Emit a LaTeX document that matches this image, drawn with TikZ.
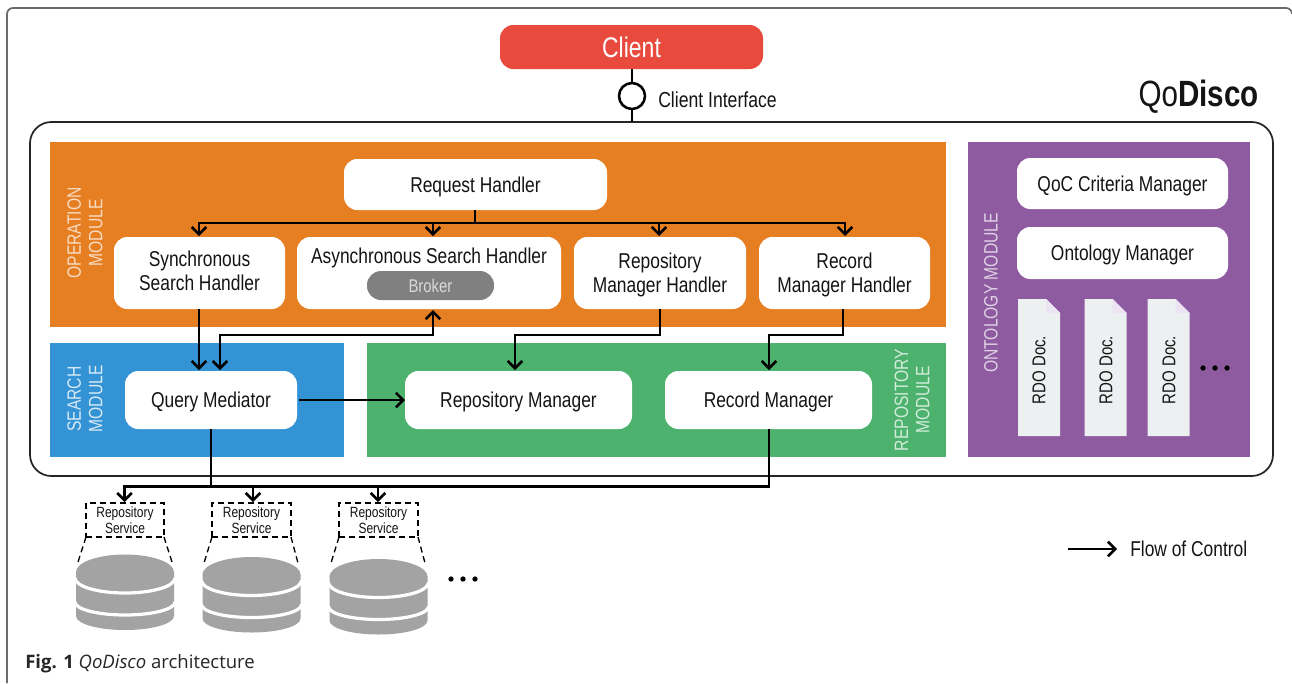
\documentclass[tikz,border=0pt]{standalone}
\usepackage{fontspec}
\setmainfont[FakeStretch=0.81]{Liberation Sans}
\newfontfamily\capfont{Open Sans}
\usetikzlibrary{arrows.meta,calc}
\definecolor{cclient}{HTML}{E84B3D}
\definecolor{corange}{HTML}{E67E22}
\definecolor{cblue}{HTML}{3393D4}
\definecolor{cgreen}{HTML}{4DB26E}
\definecolor{cpurple}{HTML}{8E5BA0}
\definecolor{cdoc}{HTML}{ECF0F1}
\definecolor{cfold}{HTML}{EDE4F3}
\definecolor{cdb}{HTML}{A3A3A3}
\definecolor{cbroker}{HTML}{808080}
\definecolor{ctext}{HTML}{141414}
\tikzset{
  x=0.75pt,y=-0.75pt,
  module/.style={inner sep=0pt,outer sep=0pt},
  whitebox/.style={fill=white,rounded corners=10pt,inner sep=0pt,outer sep=0pt,align=center,text depth=0pt,font=\fontsize{16.1pt}{18pt}\selectfont,text=ctext},
  modlabel/.style={rotate=90,align=center,inner sep=0pt,font=\fontsize{14.5pt}{16pt}\selectfont},
  flow/.style={line width=2.1pt,-{Straight Barb[length=5.5pt,width=11pt,line width=1.9pt]}},
  flowboth/.style={line width=2.1pt,{Straight Barb[length=5.5pt,width=11pt,line width=1.9pt]}-{Straight Barb[length=5.5pt,width=11pt,line width=1.9pt]}},
  plain/.style={line width=2.1pt},
  svcbox/.style={draw=black,line width=1.1pt,dash pattern=on 4.5pt off 3pt,align=center,inner sep=0pt,outer sep=0pt,font=\fontsize{11.1pt}{11.6pt}\selectfont,text=ctext},
  zoomline/.style={line width=1pt,dash pattern=on 4.5pt off 3pt},
  dot/.style={circle,fill=black,inner sep=0pt,minimum size=4pt},
  doclabel/.style={rotate=90,inner sep=0pt,font=\fontsize{13.9pt}{15pt}\selectfont,text=ctext},
}
% name x1 y1 x2 y2 style text
\newcommand{\bx}[7]{\node[#6,minimum width={(#4-#2)*0.75pt},minimum height={(#5-#3)*0.75pt}] (#1) at ({(#2+#4)/2},{(#3+#5)/2}) {#7};}
\newcommand{\rdodoc}[3]{%
  \fill[cdoc] (#2,299)--(#2+28,299)--(#2+42,313)--(#2+42,436)--(#2,436)--cycle;
  \fill[cfold] (#2+28,299)--(#2+42,313)--(#2+28,313)--cycle;
  \node[doclabel] (#1) at (#3,370) {RDO Doc.};}
\newcommand{\dbstack}[2]{%
  \begin{scope}[shift={(#1,#2)}]
  \fill[cdb] (-49,0)--(-49,44) arc[start angle=180,end angle=0,x radius=49,y radius=14] --(49,0)--cycle;
  \draw[white,line width=2.4pt] (-50,30) arc[start angle=180,end angle=0,x radius=50,y radius=13];
  \draw[white,line width=2.4pt] (-50,6) arc[start angle=180,end angle=0,x radius=50,y radius=15];
  \fill[cdb] (0,0) ellipse[x radius=49,y radius=17.5];
  \end{scope}}
\begin{document}
\begin{tikzpicture}
\useasboundingbox (0,0) rectangle (1292,683);
\fill[white] (0,0) rectangle (1292,683);
% page frame
\draw[black!58,line width=1.3pt] (7,683)--(7,14) arc[start angle=180,end angle=270,radius=6]--(1286,8) arc[start angle=270,end angle=360,radius=6];
% outer
\node[draw=black!85,line width=1.3pt,rounded corners=16pt,minimum width={1243*0.75pt},minimum height={354*0.75pt},inner sep=0pt,outer sep=0pt] (outer) at (651.5,299) {};
% modules
\bx{opm}{50}{142}{946}{327}{module,fill=corange}{}
\bx{sem}{50}{343}{344}{457}{module,fill=cblue}{}
\bx{rem}{367}{343}{946}{457}{module,fill=cgreen}{}
\bx{onm}{968}{142}{1250}{457}{module,fill=cpurple}{}
\node[modlabel,text=white!72!corange] (oplabel) at (85,233) {OPERATION\\MODULE};
\node[modlabel,text=white!80!cblue] (selabel) at (85,399) {SEARCH\\MODULE};
\node[modlabel,text=white!75!cgreen] (relabel) at (912,400) {REPOSITORY\\MODULE};
\node[modlabel,text=white!72!cpurple] (onlabel) at (991,293) {ONTOLOGY MODULE};
% client
\bx{client}{500}{25}{763}{69}{whitebox,fill=cclient,text=white,font=\fontsize{21.3pt}{22pt}\selectfont}{Client}
\node[circle,draw=black,line width=1.9pt,fill=white,minimum size=19.5pt,inner sep=0pt,outer sep=0pt] (ci) at (632,96) {};
\node[inner sep=0pt,anchor=west,font=\fontsize{16.3pt}{17pt}\selectfont,text=ctext] (cilabel) at (658,100) {Client Interface};
\coordinate (outertop) at (632,122);
\draw[line width=1.5pt] (client.south -| ci)--(ci) (ci)--(outertop);
\node[inner sep=0pt,anchor=east,font=\fontsize{27.4pt}{28pt}\selectfont,text=ctext] (title) at (1259,97) {Qo\textbf{Disco}};
% boxes
\bx{rh}{344}{159}{607}{210}{whitebox}{Request Handler}
\bx{ssh}{114}{237}{285}{309}{whitebox,text depth=3pt}{Synchronous\\Search Handler}
\bx{ash}{297}{237}{561}{309}{whitebox}{}
\node[inner sep=0pt,font=\fontsize{16.1pt}{18pt}\selectfont,text=ctext] (ashlabel) at (429,258) {Asynchronous Search Handler};
\bx{broker}{367}{271}{494}{300}{whitebox,rounded corners=10.5pt,fill=cbroker,text=white!85!black,font=\fontsize{13.8pt}{14pt}\selectfont}{Broker}
\bx{rmh}{574}{237}{746}{309}{whitebox}{Repository\\Manager Handler}
\bx{rch}{759}{237}{930}{309}{whitebox}{Record\\Manager Handler}
\bx{qm}{125}{371}{297}{429}{whitebox}{Query Mediator}
\bx{rm}{405}{371}{632}{429}{whitebox}{Repository Manager}
\bx{rc}{665}{371}{872}{429}{whitebox}{Record Manager}
\bx{qoc}{1017}{158}{1228}{209}{whitebox}{QoC Criteria Manager}
\bx{om}{1017}{227}{1228}{279}{whitebox}{Ontology Manager}
% docs
\rdodoc{doca}{1018}{1039}
\rdodoc{docb}{1084.5}{1106}
\rdodoc{docc}{1147.5}{1169}
\node[dot] (oda) at (1203,368) {};
\node[dot] (odb) at (1215,368) {};
\node[dot] (odc) at (1227,368) {};
% operation arrows
\coordinate (bus) at (475,223);
\coordinate (asstop) at (433,236);
\coordinate (rmhtop) at (659,236);
\coordinate (rchtop) at (845,236);
\coordinate (ssstop) at (199,236);
\draw[plain] (rh.south -| bus)--(bus);
\draw[flow] (bus)-|(ssstop);
\draw[flow] (bus)-|(asstop);
\draw[flow] (bus)-|(rmhtop);
\draw[flow] (bus)-|(rchtop);
\coordinate (qmtopa) at (199,370);
\coordinate (qmtopb) at (220,370);
\coordinate (asbot) at (433,310);
\coordinate (rmtop) at (515,370);
\coordinate (rctop) at (769,370);
\draw[flow] (ssh.south -| qmtopa)--(qmtopa);
\draw[flowboth] (qmtopb)|-(433,335)--(asbot);
\draw[flow] (rmh.south -| 660,0)|-(rmtop |- 0,335)--(rmtop);
\draw[flow] (rch.south -| 843,0)|-(rctop |- 0,335)--(rctop);
\draw[flow] ($(qm.east)+(2,0)$)--(rm.west);
% bottom bus
\coordinate (bb) at (211,486.5);
\coordinate (bbr) at (769,486.5);
\bx{rsa}{86}{503}{164}{537}{svcbox}{Repository\\Service}
\bx{rsb}{212}{503}{291}{537}{svcbox}{Repository\\Service}
\bx{rsc}{339}{503}{418}{537}{svcbox}{Repository\\Service}
\coordinate (ta) at (124.5,502);
\coordinate (tb) at (253,502);
\coordinate (tc) at (378,502);
\draw[plain] (qm.south -| bb)--(bb);
\draw[plain] (rc.south -| bbr)--(bbr)--(bb);
\draw[flow] (bb)-|(ta);
\draw[flow] (bb)-|(tb);
\draw[flow] (bb)-|(tc);
% trapezoid lines
\coordinate (la) at (78,562); \coordinate (ra) at (172,562);
\coordinate (lb) at (204,563); \coordinate (rb) at (298,563);
\coordinate (lc) at (331,563); \coordinate (rc2) at (425,563);
\draw[zoomline] (rsa.south west)--(la) (rsa.south east)--(ra);
\draw[zoomline] (rsb.south west)--(lb) (rsb.south east)--(rb);
\draw[zoomline] (rsc.south west)--(lc) (rsc.south east)--(rc2);
\dbstack{125}{572}
\dbstack{251.5}{574.5}
\dbstack{378.5}{576.5}
\node[dot] (da) at (451,579) {};
\node[dot] (db) at (463,579) {};
\node[dot] (dc) at (475,579) {};
% legend
\coordinate (lega) at (1068,549);
\coordinate (legb) at (1117,549);
\draw[flow] (lega)--(legb);
\node[inner sep=0pt,anchor=west,font=\fontsize{16.1pt}{17pt}\selectfont,text=ctext] (legend) at (1130,549) {Flow of Control};
% caption
\node[inner sep=0pt,anchor=west,font=\capfont\fontsize{13.9pt}{14pt}\selectfont,text=black!85] (caption) at (25,664) {\textbf{Fig. 1} \textit{QoDisco} architecture};
\end{tikzpicture}
\end{document}
